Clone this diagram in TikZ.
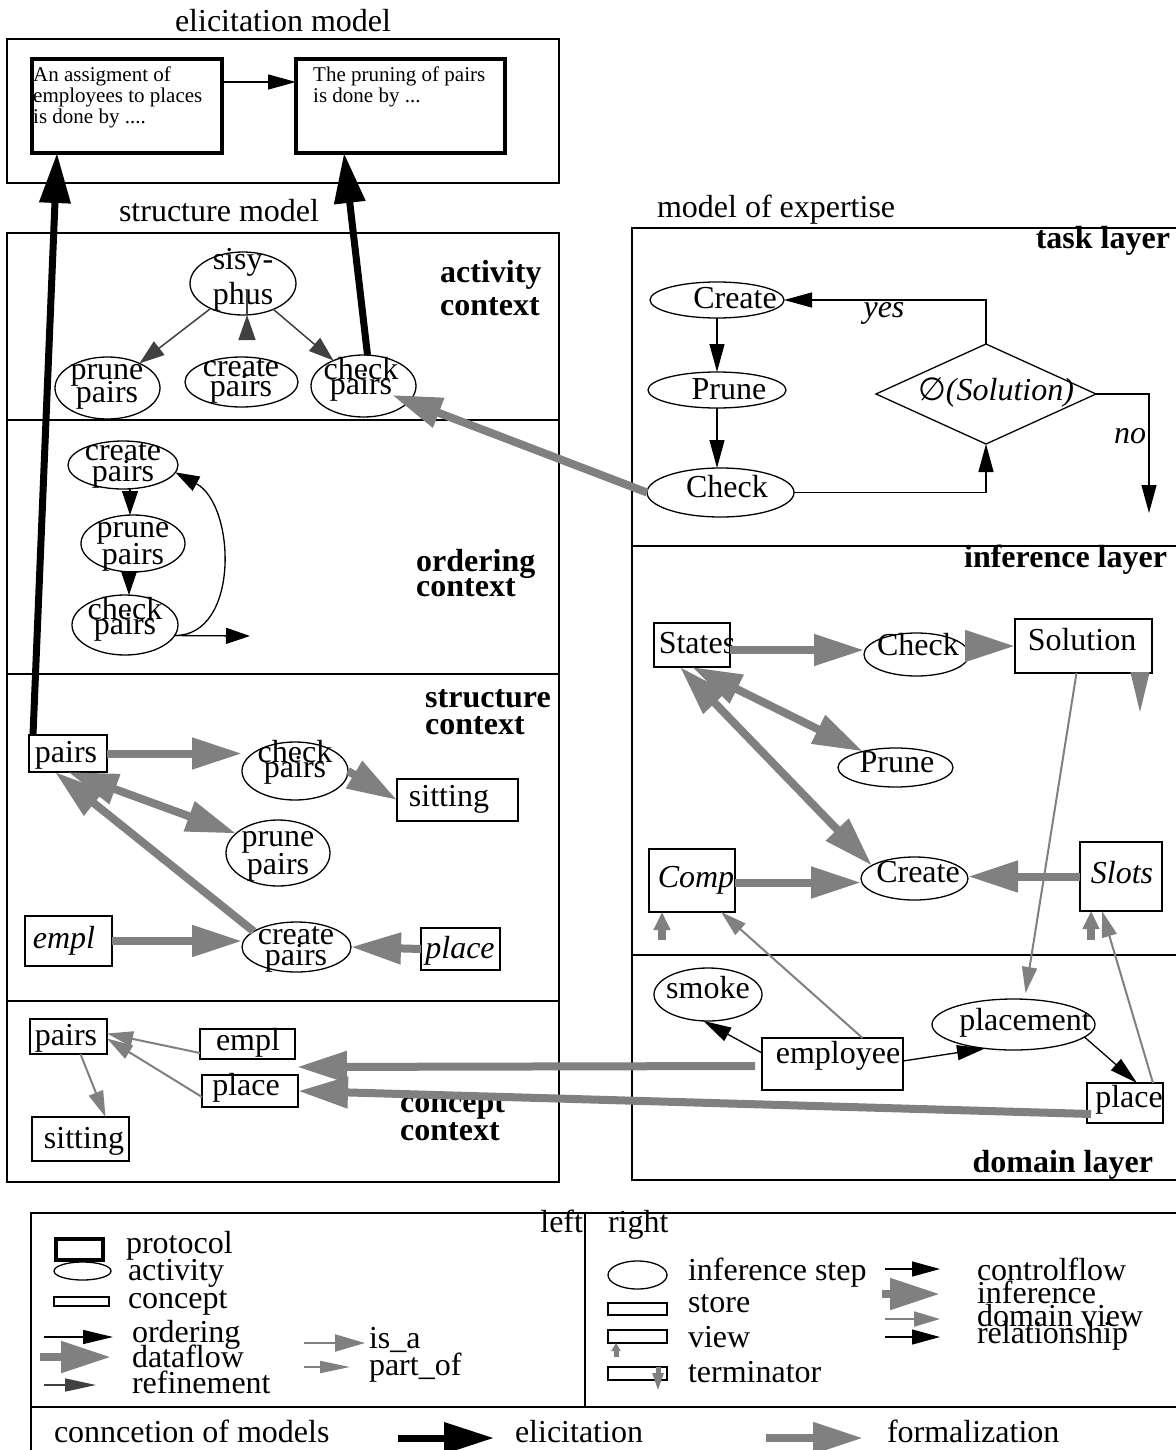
\documentclass[tikz,border=0pt]{standalone}
\usepackage{fontspec}
\setmainfont{Liberation Serif}
\newfontfamily\djvfont{DejaVu Sans}
\usetikzlibrary{arrows.meta,shapes.geometric,fit,calc}
\definecolor{mgray}{HTML}{808080}
\definecolor{dgray}{HTML}{404040}
\newcommand\fsz{\fontsize{32}{34}\selectfont}
\begin{document}
\begin{tikzpicture}[x=1pt,y=-1pt,
 ln/.style={line width=1.3pt},
 bx/.style={draw, rectangle, line width=1.3pt, inner sep=0pt, outer sep=0pt},
 pbx/.style={draw, rectangle, line width=4.5pt, inner sep=0pt, outer sep=0pt},
 el/.style={draw, ellipse, line width=1.3pt, inner sep=0pt, outer sep=0pt},
 dm/.style={draw, diamond, line width=1.3pt, inner sep=0pt, outer sep=0pt},
 lbl/.style={inner sep=0pt, outer sep=0pt, font=\fsz},
 tl/.style={inner sep=0pt, align=center, font={\fontsize{32}{#1}\selectfont\lineskiplimit=-100pt}},
 bl/.style={inner sep=0pt, align=left, anchor=west, font={\bfseries\fontsize{32}{#1}\selectfont\lineskiplimit=-100pt}},
 et/.style={inner sep=0pt, align=left, anchor=north west, font={\fontsize{21}{21}\selectfont}},
 ctl/.style={line width=1.3pt, -{Triangle[length=28pt,width=15pt]}},
 lctl/.style={line width=1.3pt, -{Triangle[length=30pt,width=14pt]}},
 octl/.style={line width=1.3pt, -{Triangle[length=24pt,width=16pt]}},
 refi/.style={draw=dgray, line width=1.5pt, -{Triangle[length=25pt,width=17pt]}},
 dflow/.style={draw=mgray, line width=8pt, -{Triangle[length=50pt,width=30pt]}},
 dflowb/.style={draw=mgray, line width=8pt, {Triangle[length=50pt,width=30pt]}-{Triangle[length=50pt,width=30pt]}},
 isa/.style={draw=mgray, line width=2pt, -{Triangle[length=26pt,width=15pt]}},
 elic/.style={line width=7pt, -{Triangle[length=50pt,width=30pt]}},
 viewarr/.style={draw=mgray, line width=8pt, -{Triangle[length=18pt,width=16pt]}},
]
\fill[white] (0,0) rectangle (1175,1450);
\useasboundingbox (0,0) rectangle (1175,1450);

% ---------------- elicitation model
\node[bx, fit={(7,39) (559,183)}] (elicbox) {};
\node[lbl, anchor=base] (elictitle) at (283,32) {elicitation model};
\node[pbx, fit={(32,59) (222,153)}] (prot1) {};
\node[pbx, fit={(296,59) (505,153)}] (prot2) {};
\node[et] (prot1t) at (33,67) {An assigment of\\employees to places\\is done by ....};
\node[et] (prot2t) at (313,67) {The pruning of pairs\\is done by ...};
\draw[ctl] ([yshift=24pt]prot1.east) -- ([yshift=24pt]prot2.west);

% ---------------- structure model
\node[lbl, anchor=base] (structtitle) at (219,222) {structure model};
\node[bx, fit={(7,233) (559,1182)}] (structbox) {};
\draw[ln] (7,420) -- (559,420) (7,674) -- (559,674) (7,1001) -- (559,1001);

% activity context
\node[el, minimum width=106pt, minimum height=63pt] (sisy) at (243,283.5) {};
\node[tl=35] (sisyt) at (243,280) {sisy-\\phus};
\node[el, minimum width=105pt, minimum height=62pt] (aprune) at (107.5,388) {};
\node[tl=23] (aprunet) at (107,387) {prune\\pairs};
\node[el, minimum width=113pt, minimum height=50pt] (acreate) at (241.5,382) {};
\node[tl=20] (acreatet) at (241,381) {create\\pairs};
\node[el, minimum width=105pt, minimum height=62pt] (acheck) at (363.5,386) {};
\node[tl=15] (acheckt) at (361,379) {check\\pairs};
\node[bl=33] (actlbl) at (440,288) {activity\\context};
\draw[refi] (sisy) -- (aprune);
\draw[refi] ($(sisy.south)+(4,0)$) -- ($(sisy.south)+(4,0)$ |- acreate.north);
\draw[refi] (sisy) -- (acheck);

% ordering context
\node[el, minimum width=110pt, minimum height=48pt] (ocreate) at (123,465) {};
\node[tl=21] (ocreatet) at (123,465) {create\\pairs};
\node[el, minimum width=104pt, minimum height=57pt] (oprune) at (133,543.5) {};
\node[tl=27] (oprunet) at (133,547) {prune\\pairs};
\node[el, minimum width=106pt, minimum height=60pt] (ocheck) at (125,625) {};
\node[tl=15] (ocheckt) at (125,619) {check\\pairs};
\node[bl=25] (ordlbl) at (416,573) {ordering\\context};
\draw[octl] ($(ocreate.south)+(7,0)$) -- ($(oprune.north)+(-3,0)$);
\draw[octl] ($(oprune.south)+(-4,0)$) -- ($(ocheck.north)+(4,0)$);
\draw[octl] (ocheck.-12) .. controls (240,636) and (236,505) .. (ocreate.-8);
\coordinate (oexit) at (250,636);
\draw[octl] (ocheck.-12) -- (oexit);

% structure context
\node[bx, fit={(29,735) (107,772)}] (spairs) {};
\node[lbl, anchor=base] (spairst) at (66,762) {pairs};
\node[el, minimum width=106pt, minimum height=58pt] (scheck) at (295,771) {};
\node[tl=15] (scheckt) at (295,762) {check\\pairs};
\node[bx, fit={(397,779) (518,821)}] (ssit) {};
\node[lbl, anchor=base] (ssitt) at (449,806) {sitting};
\node[el, minimum width=104pt, minimum height=66pt] (sprune) at (278,853) {};
\node[tl=28] (sprunet) at (278,856) {prune\\pairs};
\node[bx, fit={(25,916) (112,966)}] (sempl) {};
\node[lbl, anchor=base] (semplt) at (64,948) {\textit{empl}};
\node[el, minimum width=109pt, minimum height=50pt] (screate) at (296.5,947) {};
\node[tl=21] (screatet) at (296,949) {create\\pairs};
\node[bx, fit={(421,928) (500,970)}] (splace) {};
\node[lbl, anchor=base] (splacet) at (460,958) {\textit{place}};
\node[bl=27] (strlbl) at (425,712) {structure\\context};
\draw[dflow] (spairs.east) -- (spairs.east -| scheck.west);
\draw[dflow] (scheck.east) -- (ssit.west);
\draw[dflowb] (spairs.south) -- (sprune.155);
\draw[dflow] (screate.160) -- ($(spairs.south)+(-13,0)$);
\draw[dflow] (sempl.east) -- (sempl.east -| screate.west);
\draw[dflow] (splace.west) -- (screate.east);

% concept context
\node[bx, fit={(30,1019) (107,1054)}] (cpairs) {};
\node[lbl, anchor=base] (cpairst) at (66,1045) {pairs};
\node[bx, fit={(200,1029) (295,1059)}] (cempl) {};
\node[lbl, anchor=base] (cemplt) at (248,1050) {empl};
\node[bx, fit={(202,1075) (298,1107)}] (cplace) {};
\node[lbl, anchor=base] (cplacet) at (246,1095) {place};
\node[bx, fit={(32,1117) (129,1161)}] (csit) {};
\node[lbl, anchor=base] (csitt) at (84,1148) {sitting};
\node[bl=28] (conlbl) at (400,1118) {concept\\context};
\draw[isa] ([yshift=-9pt]cempl.west) -- ([yshift=3pt]cpairs.east);
\draw[isa] ([yshift=-6pt]cplace.west) -- ([yshift=-2pt]cpairs.east);
\draw[isa] ([xshift=12pt]cpairs.south) -- ([xshift=25pt]csit.north);

% ---------------- model of expertise
\node[lbl, anchor=base west] (exptitle) at (657,218) {model of expertise};
\draw[ln] (1176,228) -- (632,228) -- (632,1180) -- (1176,1180);
\draw[ln] (632,546) -- (1176,546) (632,955) -- (1176,955);
\node[lbl, anchor=base east, font={\bfseries\fsz}] (tasklbl) at (1170,248) {task layer};
\node[lbl, anchor=base east, font={\bfseries\fsz}] (inflbl) at (1167,567) {inference layer};
\node[lbl, anchor=base east, font={\bfseries\fsz}] (domlbl) at (1153,1172) {domain layer};

% task layer
\node[el, minimum width=134pt, minimum height=36pt] (tcreate) at (717,300) {};
\node[lbl, anchor=base] (tcreatet) at (735,308) {Create};
\node[el, minimum width=138pt, minimum height=36pt] (tprune) at (717,390) {};
\node[lbl, anchor=base] (tprunet) at (729,399) {Prune};
\node[el, minimum width=147pt, minimum height=49pt] (tcheck) at (720.5,492.5) {};
\node[lbl, anchor=base] (tcheckt) at (727,497) {Check};
\node[dm, minimum width=220pt, minimum height=100pt] (tdiam) at (986,394) {};
\node[lbl, anchor=base] (tdiamt) at (996,400) {{\djvfont ∅}\textit{(Solution)}};
\draw[ctl] (tcreate.south) -- (tprune.north);
\draw[ctl] (tprune.south) -- (tprune.south |- tcheck.north);
\draw[ctl] (tcheck.east) -| (tdiam.south);
\draw[ctl] (tdiam.north) |- (tcreate.east);
\coordinate (tno) at (1149,513);
\draw[ctl] (tdiam.east) -| (tno);
\node[lbl, anchor=base] (tyes) at (884,317) {\textit{yes}};
\node[lbl, anchor=base] (tnolbl) at (1130,443) {\textit{no}};

% inference layer
\node[bx, fit={(654,623) (730,667)}] (istates) {};
\node[lbl, anchor=base] (istatest) at (697,653) {States};
\node[el, minimum width=105pt, minimum height=43pt] (icheck) at (916.5,654.5) {};
\node[lbl, anchor=base] (icheckt) at (918,655) {Check};
\node[bx, fit={(1015,619) (1152,673)}] (isol) {};
\node[lbl, anchor=base] (isolt) at (1082,650) {Solution};
\node[el, minimum width=115pt, minimum height=39pt] (iprune) at (895.5,767.5) {};
\node[lbl, anchor=base] (iprunet) at (897,772) {Prune};
\node[bx, fit={(649,849) (735,912)}] (icomp) {};
\node[lbl, anchor=base] (icompt) at (696,887) {\textit{Comp}};
\node[el, minimum width=107pt, minimum height=43pt] (icreate) at (914.5,878.5) {};
\node[lbl, anchor=base] (icreatet) at (918,882) {Create};
\node[bx, fit={(1080,842) (1162,911)}] (islots) {};
\node[lbl, anchor=base] (islotst) at (1122,883) {\textit{Slots}};
\draw[dflow] ([yshift=-5pt]istates.east) -- ([yshift=-5pt]istates.east -| icheck.west);
\draw[dflow] (icheck.10) -- (icheck.10 -| isol.west);
\draw[dflowb] (istates.south) -- (iprune);
\draw[dflowb] ([xshift=-12pt]istates.south) -- (icreate.163);
\draw[dflow] ([yshift=-2pt]icomp.east) -- ([yshift=-2pt]icomp.east -| icreate.west);
\draw[dflow] (islots.west) -- (islots.west -| icreate.east);
\coordinate (iterm) at (1140,712);
\draw[draw=mgray, line width=1pt, -{Triangle[length=40pt,width=19pt]}] (iterm |- isol.south) -- (iterm);
\coordinate (iv1) at (662,940);
\coordinate (iv2) at (1091,940);
\draw[viewarr] (iv1) -- (iv1 |- icomp.south);
\draw[viewarr] (iv2) -- (iv2 |- islots.south);

% domain layer
\node[el, minimum width=108pt, minimum height=53pt] (dsmoke) at (708,994.5) {};
\node[lbl, anchor=base] (dsmoket) at (708,998) {smoke};
\node[bx, fit={(762,1038) (903,1090)}] (demp) {};
\node[lbl, anchor=base] (dempt) at (838,1063) {employee};
\node[el, minimum width=163pt, minimum height=51pt] (dplacement) at (1013.5,1024.5) {};
\node[lbl, anchor=base] (dplacementt) at (1025,1030) {placement};
\node[bx, fit={(1087,1083) (1163,1123)}] (dplace) {};
\node[lbl, anchor=base] (dplacet) at (1129,1107) {place};
\draw[ctl] ([yshift=11pt]demp.west) -- (dsmoke.-100);
\draw[ctl] ([yshift=3pt]demp.east) -- (dplacement.-140);
\draw[ctl] (dplacement.-10) -- ([xshift=12pt]dplace.north);
\draw[isa] ([xshift=30pt]demp.north) -- ([xshift=-14pt]icomp.south east);
\draw[isa] ([xshift=-7pt]isol.south) -- ([xshift=12pt,yshift=6pt]dplacement.north);
\draw[isa] ([xshift=28pt]dplace.north) -- ([xshift=-19pt]islots.south);

% ---------------- connections between models
\draw[dflow] (tcheck.west) -- ($(acheck)+(28.5,9)$);
\draw[dflow] ($(demp.west)+(-7,2)$) -- ($(cempl.south east)+(2,8)$);
\draw[dflow] ($(dplace.south west)+(4,-9)$) -- (cplace.east);
\draw[elic] ([xshift=4pt]spairs.north west) -- ([xshift=25pt]prot1.south west);
\draw[elic] ([xshift=4pt]acheck.north) -- ([xshift=48pt]prot2.south west);

% ---------------- legend
\draw[ln] (1176,1213) -- (31,1213) -- (31,1451);
\draw[ln] (31,1407) -- (1176,1407);
\draw[ln] (585,1213) -- (585,1407);
\node[lbl, anchor=base east] (lleft) at (583,1232) {left};
\node[lbl, anchor=base west] (lright) at (608,1232) {right};

\node[pbx, fit={(56,1239) (103,1260)}] (lprot) {};
\node[el, minimum width=57pt, minimum height=18pt] (lact) at (82.5,1271) {};
\node[bx, fit={(54,1297) (109,1306)}] (lconc) {};
\node[lbl, anchor=base west] (lprott) at (126,1253) {protocol};
\node[lbl, anchor=base west] (lactt) at (128,1280) {activity};
\node[lbl, anchor=base west] (lconct) at (128,1308) {concept};
\coordinate (lo1) at (44,1337); \coordinate (lo2) at (113,1337);
\draw[lctl] (lo1) -- (lo2);
\coordinate (ld1) at (40,1357); \coordinate (ld2) at (111,1357);
\draw[dflow] (ld1) -- (ld2);
\coordinate (lr1) at (44,1385); \coordinate (lr2) at (96,1385);
\draw[draw=dgray, line width=1.5pt, -{Triangle[length=31pt,width=13pt]}] (lr1) -- (lr2);
\node[lbl, anchor=base west] (lordt) at (132,1342) {ordering};
\node[lbl, anchor=base west] (ldatat) at (132,1367) {dataflow};
\node[lbl, anchor=base west] (lrefit) at (132,1393) {refinement};
\coordinate (li1) at (304,1343); \coordinate (li2) at (365,1343);
\draw[draw=mgray, line width=2pt, -{Triangle[length=30pt,width=17pt]}] (li1) -- (li2);
\coordinate (lp1) at (304,1367); \coordinate (lp2) at (350,1367);
\draw[draw=mgray, line width=2pt, -{Triangle[length=30pt,width=12pt]}] (lp1) -- (lp2);
\node[lbl, anchor=base west] (lisat) at (369,1348) {is\_a};
\node[lbl, anchor=base west] (lpartt) at (369,1375) {part\_of};

\node[el, minimum width=59pt, minimum height=28pt] (rinf) at (637.5,1275) {};
\node[bx, fit={(608,1303) (667,1315)}] (rstore) {};
\node[bx, fit={(608,1330) (667,1343)}] (rview) {};
\node[bx, fit={(608,1367) (667,1380)}] (rterm) {};
\coordinate (rv) at (616,1357);
\draw[draw=mgray, line width=5pt, -{Triangle[length=8pt,width=9pt]}] (rv) -- (rv |- rview.south);
\coordinate (rt) at (658,1392);
\draw[draw=mgray, line width=5pt, -{Triangle[length=19pt,width=10pt]}] (rt |- rterm.north) -- (rt);
\node[lbl, anchor=base west] (rinft) at (688,1280) {inference step};
\node[lbl, anchor=base west] (rstoret) at (688,1312) {store};
\node[lbl, anchor=base west] (rviewt) at (688,1347) {view};
\node[lbl, anchor=base west] (rtermt) at (688,1382) {terminator};
\coordinate (rc1) at (885,1269); \coordinate (rc2) at (940,1269);
\draw[ctl] (rc1) -- (rc2);
\coordinate (rn1) at (882,1294); \coordinate (rn2) at (940,1294);
\draw[dflow] (rn1) -- (rn2);
\coordinate (rd1) at (885,1319); \coordinate (rd2) at (940,1319);
\draw[isa] (rd1) -- (rd2);
\coordinate (rl1) at (885,1337); \coordinate (rl2) at (940,1337);
\draw[ctl] (rl1) -- (rl2);
\node[lbl, anchor=base west] (rctt) at (977,1280) {controlflow};
\node[lbl, anchor=base west] (rinfrt) at (977,1303) {inference};
\node[lbl, anchor=base west] (rdvt) at (977,1326) {domain view};
\node[lbl, anchor=base west] (rrelt) at (977,1343) {relationship};

\node[lbl, anchor=base west] (conmt) at (54,1442) {conncetion of models};
\coordinate (le1) at (398,1438); \coordinate (le2) at (494,1438);
\draw[elic] (le1) -- (le2);
\node[lbl, anchor=base west] (lelict) at (515,1442) {elicitation};
\coordinate (lf1) at (766,1438); \coordinate (lf2) at (863,1438);
\draw[dflow] (lf1) -- (lf2);
\node[lbl, anchor=base west] (lformt) at (887,1442) {formalization};
\end{tikzpicture}
\end{document}
